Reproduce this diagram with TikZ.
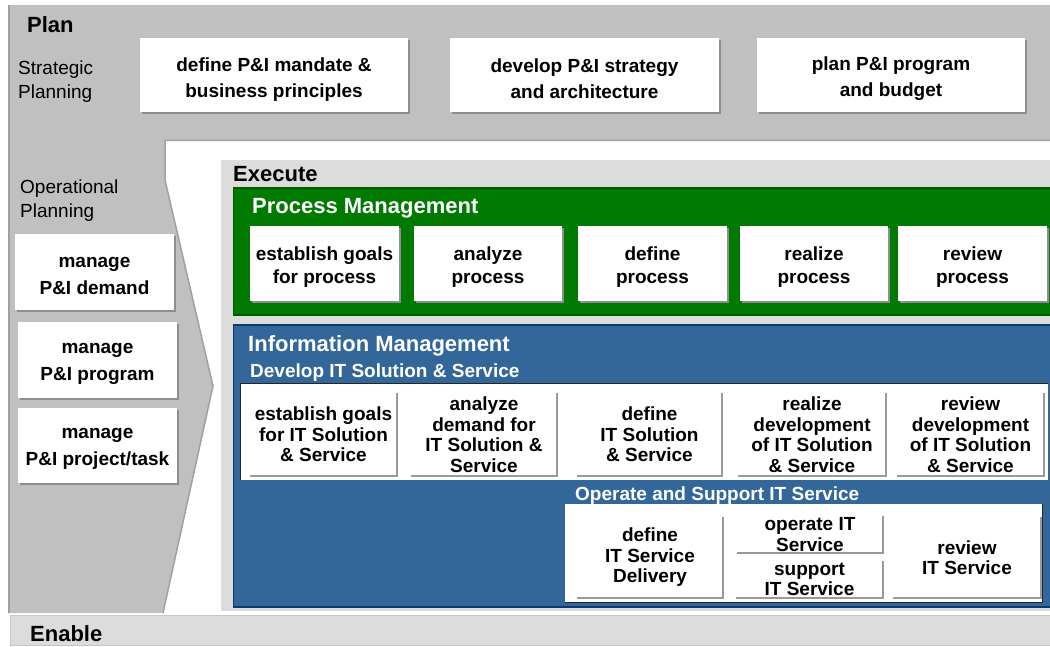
\documentclass[tikz,border=0pt]{standalone}
\usepackage{fontspec}
\setmainfont{Liberation Sans}
\usetikzlibrary{shadows}
\definecolor{plangray}{HTML}{C0C0C0}
\definecolor{execgray}{HTML}{DCDCDC}
\definecolor{pmgreen}{HTML}{007A00}
\definecolor{pmgreendark}{HTML}{005A00}
\definecolor{imblue}{HTML}{336699}
\definecolor{imbluedark}{HTML}{0B3B6E}
\definecolor{edgegray}{HTML}{A0A0A0}
\definecolor{shadowgray}{HTML}{8E8E8E}
\definecolor{linegray}{HTML}{9A9A9A}

\begin{document}
\begin{tikzpicture}[x=1pt,y=-1pt,
  heading/.style={anchor=base west, inner sep=0pt, font=\bfseries\fontsize{22}{26}\selectfont},
  subheading/.style={anchor=base west, inner sep=0pt, text=white, font=\bfseries\fontsize{19}{22}\selectfont},
  plainlabel/.style={anchor=west, inner sep=0pt, align=left, font=\fontsize{19}{24}\selectfont},
  wbox/.style={fill=white, inner sep=0pt,
    drop shadow={shadow xshift=2pt, shadow yshift=-2pt, fill=shadowgray, opacity=1}},
  planbox/.style={wbox, minimum height=74},
  opbox/.style={wbox, minimum width=159, minimum height=76},
  procbox/.style={wbox, minimum height=75},
  plantext/.style={inner sep=0pt, align=center, font=\bfseries\fontsize{19}{26}\selectfont},
  optext/.style={inner sep=0pt, align=center, font=\bfseries\fontsize{19}{27}\selectfont},
  proctext/.style={inner sep=0pt, align=center, font=\bfseries\fontsize{19}{23}\selectfont},
  itbox/.style={inner sep=0pt, align=center, font=\bfseries\fontsize{19}{20.5}\selectfont},
  sline/.style={draw=linegray, line width=2pt}
]
\useasboundingbox (0,0) rectangle (1050,647);
\fill[white] (0,0) rectangle (1050,647);

% Plan area: strategic bar and operational chevron column
\fill[plangray] (8,5) -- (1050,5) -- (1050,140) -- (165,140) -- (165,180)
  -- (213,386) -- (163,613) -- (8,613) -- cycle;
\draw[edgegray, line width=2pt] (9,5) -- (9,613);
\fill[white] (165,141) -- (1050,141) -- (1050,613) -- (163,613) -- (213,386)
  -- (165,180) -- cycle;
\draw[edgegray, line width=1.5pt] (1050,140.5) -- (165,140.5) -- (165,180)
  -- (213,386) -- (163,613);

% Execute panel
\fill[execgray] (221,160) rectangle (1050,611);

% Enable bar
\filldraw[fill=execgray, draw=black!22, line width=1pt] (10,615) rectangle (1053,645);

% Process Management panel
\filldraw[fill=pmgreen, draw=pmgreendark, line width=1.5pt] (233.5,188) rectangle (1053,315);

% Information Management panel
\filldraw[fill=imblue, draw=imbluedark, line width=1.5pt] (233.5,325) rectangle (1053,607);
\fill[white] (240,383) rectangle (1048,480);
\draw[black!85, line width=1pt] (240.5,480) -- (240.5,383.5) -- (1048,383.5);
\fill[white] (565,504) rectangle (1043,603);
\draw[black!85, line width=1.2pt] (565,602.5) -- (1042.5,602.5) -- (1042.5,504);

% Section titles
\node[heading] (plan) at (27,33) {Plan};
\node[plainlabel] (strat) at (18,82) {Strategic\\Planning};
\node[plainlabel] (oper) at (20,201) {Operational\\Planning};
\node[heading] (exec) at (233,182) {Execute};
\node[heading, text=white] (pm) at (252,214) {Process Management};
\node[heading, text=white] (im) at (248,351) {Information Management};
\node[subheading] (dev) at (250,377) {Develop IT Solution \& Service};
\node[subheading] (ops) at (575,500) {Operate and Support IT Service};
\node[heading] (enable) at (30,641) {Enable};

% Strategic planning activities
\node[planbox, minimum width=268] (sp1) at (274,75) {};
\node[planbox, minimum width=269] (sp2) at (584.5,75) {};
\node[planbox, minimum width=268] (sp3) at (891,75) {};
\node[plantext] (sp1t) at ([yshift=-5pt]sp1.center) {define P\&I mandate \&\\business principles};
\node[plantext] (sp2t) at ([yshift=-4pt]sp2.center) {develop P\&I strategy\\and architecture};
\node[plantext] (sp3t) at ([yshift=-4pt]sp3.center) {plan P\&I program\\and budget};

% Operational planning activities
\node[opbox] (op1) at (94.5,272) {};
\node[opbox] (op2) at (97.5,360) {};
\node[opbox, minimum height=75] (op3) at (97.5,445.5) {};
\node[optext] (op1t) at ([yshift=-3.5pt]op1.center) {manage\\P\&I demand};
\node[optext] (op2t) at ([yshift=-3.5pt]op2.center) {manage\\P\&I program};
\node[optext] (op3t) at ([yshift=-3.5pt]op3.center) {manage\\P\&I project/task};

% Process management activities
\node[procbox, minimum width=149] (pr1) at (324.5,263.5) {};
\node[procbox, minimum width=148] (pr2) at (488,263.5) {};
\node[procbox, minimum width=149] (pr3) at (652.5,263.5) {};
\node[procbox, minimum width=148] (pr4) at (814,263.5) {};
\node[procbox, minimum width=149] (pr5) at (972.5,263.5) {};
\node[proctext] (pr1t) at ([yshift=-4pt]pr1.center) {establish goals\\for process};
\node[proctext] (pr2t) at ([yshift=-4pt]pr2.center) {analyze\\process};
\node[proctext] (pr3t) at ([yshift=-4pt]pr3.center) {define\\process};
\node[proctext] (pr4t) at ([yshift=-4pt]pr4.center) {realize\\process};
\node[proctext] (pr5t) at ([yshift=-4pt]pr5.center) {review\\process};

% Develop IT Solution & Service activities
\node[itbox, minimum width=147, minimum height=83] (dv1) at (323.5,434.5) {establish goals\\for IT Solution\\\& Service};
\node[itbox, minimum width=146, minimum height=83] (dv2) at (484,434.5) {analyze\\demand for\\IT Solution \&\\Service};
\node[itbox, minimum width=145, minimum height=83] (dv3) at (649.5,434.5) {define\\IT Solution\\\& Service};
\node[itbox, minimum width=148, minimum height=83] (dv4) at (812,434.5) {realize\\development\\of IT Solution\\\& Service};
\node[itbox, minimum width=147, minimum height=83] (dv5) at (970.5,434.5) {review\\development\\of IT Solution\\\& Service};

% Operate and Support IT Service activities
\node[itbox, minimum width=146, minimum height=81] (os1) at (650,557.5) {define\\IT Service\\Delivery};
\node[itbox, minimum width=146, minimum height=37] (os2) at (810,534.5) {operate IT\\Service};
\node[itbox, minimum width=147, minimum height=37] (os3) at (809.5,579.5) {support\\IT Service};
\node[itbox, minimum width=148, minimum height=81] (os4) at (967,557.5) {review\\IT Service};

% Edge lines of the IT activity cells
\foreach \n in {dv1,dv2,dv3,dv4,dv5,os1,os2,os3,os4}
  \draw[sline] (\n.north east) -- (\n.south east) -- (\n.south west);
\end{tikzpicture}
\end{document}
